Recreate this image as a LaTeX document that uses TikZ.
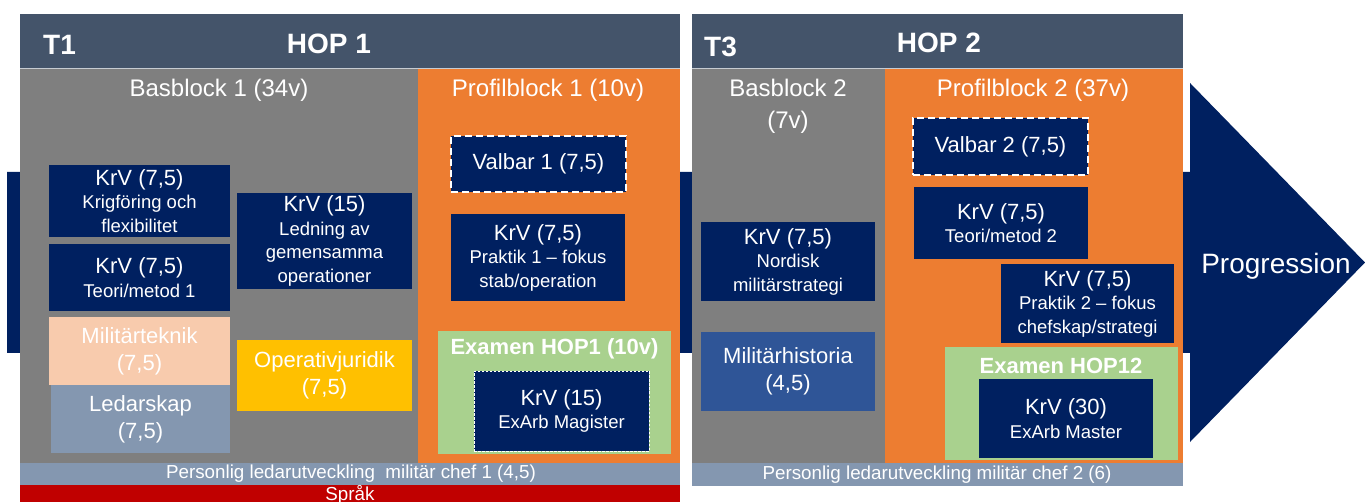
\documentclass[tikz,border=0pt]{standalone}
\usepackage{fontspec}
\setmainfont{Liberation Sans}
\definecolor{hdr}{HTML}{44546A}
\definecolor{gry}{HTML}{7F7F7F}
\definecolor{org}{HTML}{ED7D31}
\definecolor{nvy}{HTML}{002060}
\definecolor{grn}{HTML}{A9D18E}
\definecolor{pch}{HTML}{F8CBAD}
\definecolor{bgr}{HTML}{8497B0}
\definecolor{gld}{HTML}{FFC000}
\definecolor{mhb}{HTML}{2F5597}
\definecolor{red}{HTML}{C00000}
\newcommand{\fA}{\fontsize{22}{27}\selectfont}
\newcommand{\fB}{\fontsize{18.5}{23.5}\selectfont}
\newcommand{\fT}{\fontsize{24}{32}\selectfont}
\newcommand{\fH}{\fontsize{28}{32}\selectfont\bfseries}
\begin{document}
\begin{tikzpicture}[x=1pt,y=-1pt,
  crs/.style={fill=#1,draw=none,text=white,align=center,inner sep=0pt,font=\fB},
  crs/.default=nvy,
  big/.style={fill=#1,draw=none,text=white,align=center,inner sep=0pt,font=\fA},
  big/.default=nvy,
  ttl/.style={text=white,align=center,inner sep=0pt,font=\fT},
  hd/.style={text=white,inner sep=0pt,font=\fH},
  bar/.style={text=white,inner sep=0pt,font=\fontsize{18.8}{23}\selectfont},
  valbar/.style={draw=white,line width=2.4pt,dash pattern=on 7pt off 4pt},
  thindash/.style={draw=white,line width=0.8pt,dash pattern=on 2.5pt off 1.5pt}
]
\useasboundingbox (0,0) rectangle (1365,502);
% progression arrow
\fill[nvy] (7,172) -- (1190,172) -- (1190,83) -- (1365,262.5) -- (1190,442) -- (1190,353) -- (7,353) -- cycle;
\node[text=white,font=\fontsize{28}{32}\selectfont,inner sep=0pt] (prog) at (1276,266) {Progression};
% left panel
\fill[hdr] (20,14) rectangle (680,68);
\fill[gry] (20,68) rectangle (418,463);
\fill[org] (418,68) rectangle (680,463);
\fill[bgr] (20,463) rectangle (680,485);
\fill[red] (20,485) rectangle (680,502);
\draw[white!70!hdr,line width=0.6pt] (20,68) -- (680,68);
\node[hd] (t1) at (59.5,45) {T1};
\node[hd] (hop1) at (329,44) {HOP 1};
\node[ttl] (bb1) at (219,90) {Basblock 1 (34v)};
\node[ttl] (pb1) at (548,90) {Profilblock 1 (10v)};
% basblock 1 courses
\node[crs,minimum width=181pt,minimum height=72pt] (kf) at (139.5,201) {{\fA KrV (7,5)}\\Krigföring och\\flexibilitet};
\node[crs,minimum width=181pt,minimum height=67pt] (tm1) at (139.5,277.5) {{\fA KrV (7,5)}\\Teori/metod 1};
\node[big=pch,minimum width=181pt,minimum height=68pt] (mt) at (139.5,351) {Militärteknik\\(7,5)};
\node[big=bgr,minimum width=179pt,minimum height=68pt] (ls) at (140.5,419) {Ledarskap\\(7,5)};
\node[crs,minimum width=175pt,minimum height=96pt] (lgo) at (324.5,241) {{\fA KrV (15)}\\Ledning av\\gemensamma\\operationer};
\node[big=gld,minimum width=175pt,minimum height=71pt] (oj) at (324.5,375.5) {Operativjuridik\\(7,5)};
% profilblock 1
\node[big,valbar,minimum width=175pt,minimum height=56pt] (v1) at (538.5,164) {Valbar 1 (7,5)};
\node[crs,minimum width=174pt,minimum height=87pt] (p1) at (538,257.5) {{\fA KrV (7,5)}\\Praktik 1 – fokus\\stab/operation};
\node[crs=grn,minimum width=233pt,minimum height=123pt] (ex1) at (554.5,392.5) {};
\node[text=white,inner sep=0pt,font=\fA\bfseries] (ex1t) at (554.5,349) {Examen HOP1 (10v)};
\node[crs,thindash,minimum width=175pt,minimum height=80pt] (em1) at (561.5,411) {{\fA KrV (15)}\\ExArb Magister};
\node[bar] (pl1) at (351,474) {Personlig ledarutveckling\ \ militär chef 1 (4,5)};
\node[bar,anchor=base] (spr) at (350,500) {Språk};
% right panel
\fill[hdr] (692,14) rectangle (1183,68);
\fill[gry] (692,68) rectangle (885,463);
\fill[org] (885,68) rectangle (1183,463);
\fill[bgr] (692,463) rectangle (1183,486);
\draw[white!70!hdr,line width=0.6pt] (692,68) -- (1183,68);
\node[hd] (t3) at (720.5,47) {T3};
\node[hd] (hop2) at (939,42.5) {HOP 2};
\node[ttl] (bb2) at (788,106) {Basblock 2\\(7v)};
\node[ttl] (pb2) at (1033,90) {Profilblock 2 (37v)};
\node[crs,minimum width=174pt,minimum height=79pt] (ns) at (788,261.5) {{\fA KrV (7,5)}\\Nordisk\\militärstrategi};
\node[big=mhb,minimum width=174pt,minimum height=79pt] (mh) at (788,371.5) {Militärhistoria\\(4,5)};
\node[big,valbar,minimum width=175pt,minimum height=57pt] (v2) at (1000.5,146.5) {Valbar 2 (7,5)};
\node[crs,minimum width=174pt,minimum height=72pt] (tm2) at (1001,223) {{\fA KrV (7,5)}\\Teori/metod 2};
\node[crs,minimum width=173pt,minimum height=79pt] (p2) at (1087.5,303.5) {{\fA KrV (7,5)}\\Praktik 2 – fokus\\chefskap/strategi};
\node[crs=grn,minimum width=233pt,minimum height=113pt] (ex2) at (1061.5,403.5) {};
\node[text=white,inner sep=0pt,font=\fA\bfseries] (ex2t) at (1061,366) {Examen HOP12};
\node[crs,minimum width=174pt,minimum height=79pt] (em2) at (1066,418.5) {{\fA KrV (30)}\\ExArb Master};
\node[bar] (pl2) at (937,475) {Personlig ledarutveckling militär chef 2 (6)};
\end{tikzpicture}
\end{document}
